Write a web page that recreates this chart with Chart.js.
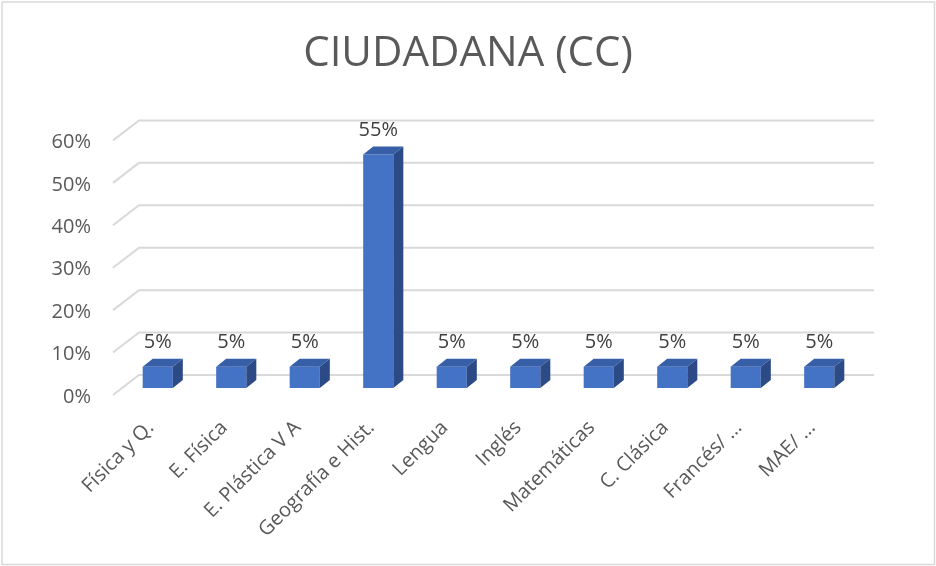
<!DOCTYPE html>
<html>
<head>
<meta charset="utf-8">
<script src="https://cdn.jsdelivr.net/npm/chart.js@4/dist/chart.umd.min.js"></script>
<style>
  html, body { margin: 0; padding: 0; background: #fff; }
  #wrap { width: 936px; height: 566px; }
</style>
</head>
<body>
<div id="wrap"><canvas id="barChart" width="936" height="566"></canvas></div>
<script>
var labels = ["Física y Q.", "E. Física", "E. Plástica V A", "Geografía e Hist.", "Lengua",
              "Inglés", "Matemáticas", "C. Clásica", "Francés/ …", "MAE/ …"];
var values = [5, 5, 5, 55, 5, 5, 5, 5, 5, 5];
var yTicks = [0, 10, 20, 30, 40, 50, 60];

var FONT = "'Open Sans', 'DejaVu Sans', sans-serif";
var GREY = '#595959';
Chart.defaults.font.family = FONT;
Chart.defaults.color = GREY;

// fake depth of the excel 3d plot
var DEPTH_X = 10, DEPTH_Y = 8;      // bar depth
var BACK_X = 18, BACK_Y = 13;       // bar plane -> back wall
var FRONT_X = 8, FRONT_Y = 7;       // bar plane -> floor front edge

var frame = {
    id: 'frame',
    beforeDraw: function (chart) {
        var c = chart.ctx;
        c.save();
        c.fillStyle = '#fff';
        c.fillRect(0, 0, chart.width, chart.height);
        c.strokeStyle = '#d9d9d9';
        c.lineWidth = 1.5;
        c.strokeRect(2, 2, chart.width - 3.5, chart.height - 3.5);
        c.restore();
    },
    beforeDatasetsDraw: function (chart) {
        var c = chart.ctx, y = chart.scales.y, a = chart.chartArea;
        c.save();
        c.strokeStyle = '#d9d9d9';
        c.lineWidth = 2;
        yTicks.forEach(function (v) {
            var py = y.getPixelForValue(v);
            c.beginPath();
            c.moveTo(a.left - FRONT_X, py + FRONT_Y);
            c.lineTo(a.left + BACK_X, py - BACK_Y);
            c.lineTo(a.right + BACK_X, py - BACK_Y);
            c.stroke();
        });
        c.restore();
    },
    afterDatasetsDraw: function (chart) {
        var c = chart.ctx;
        var meta = chart.getDatasetMeta(0);
        c.save();
        meta.data.forEach(function (bar, i) {
            var x0 = bar.x - bar.width / 2, x1 = bar.x + bar.width / 2;
            var yt = bar.y, yb = bar.base;
            // top face
            c.fillStyle = '#375FA8';
            c.beginPath();
            c.moveTo(x0, yt);
            c.lineTo(x0 + DEPTH_X, yt - DEPTH_Y);
            c.lineTo(x1 + DEPTH_X, yt - DEPTH_Y);
            c.lineTo(x1, yt);
            c.closePath();
            c.fill();
            // side face
            c.fillStyle = '#2B4A86';
            c.beginPath();
            c.moveTo(x1, yt);
            c.lineTo(x1 + DEPTH_X, yt - DEPTH_Y);
            c.lineTo(x1 + DEPTH_X, yb - DEPTH_Y);
            c.lineTo(x1, yb);
            c.closePath();
            c.fill();
            // value label
            c.fillStyle = '#404040';
            c.font = '20px ' + FONT;
            c.textAlign = 'center';
            c.textBaseline = 'middle';
            c.fillText(values[i] + '%', bar.x, yt - 24);
        });
        c.restore();
    }
};

var barChart = new Chart(document.getElementById('barChart'), {
    type: 'bar',
    data: {
        labels: labels,
        datasets: [{
            data: values,
            backgroundColor: '#4472C4',
            barPercentage: 0.41,
            categoryPercentage: 1.0
        }]
    },
    options: {
        responsive: false,
        animation: false,
        layout: { padding: 0 },
        plugins: {
            legend: { display: false },
            tooltip: { enabled: false },
            title: {
                display: true,
                text: 'CIUDADANA (CC)',
                color: GREY,
                font: { size: 42, weight: 'normal', family: FONT },
                padding: { top: 29, bottom: 54 }
            }
        },
        scales: {
            x: {
                grid: { display: false, drawTicks: false },
                border: { display: false },
                ticks: {
                    autoSkip: false,
                    minRotation: 45,
                    maxRotation: 45,
                    padding: 28,
                    labelOffset: -7,
                    font: { size: 20 },
                    color: GREY
                },
                afterFit: function (s) { s.height = 178; }
            },
            y: {
                min: 0,
                max: 60,
                grid: { display: false, drawTicks: false },
                border: { display: false },
                ticks: {
                    stepSize: 10,
                    padding: 30,
                    labelOffset: 9,
                    font: { size: 20 },
                    color: GREY,
                    callback: function (v) { return v + '%'; }
                },
                afterFit: function (s) { s.width = 121; }
            },
            // empty right-hand strip so the plot ends where the excel one does
            spacer: {
                type: 'linear',
                position: 'right',
                grid: { display: false, drawTicks: false },
                border: { display: false },
                ticks: { display: false },
                afterFit: function (s) { s.width = 80; }
            }
        }
    },
    plugins: [frame]
});
</script>
</body>
</html>
